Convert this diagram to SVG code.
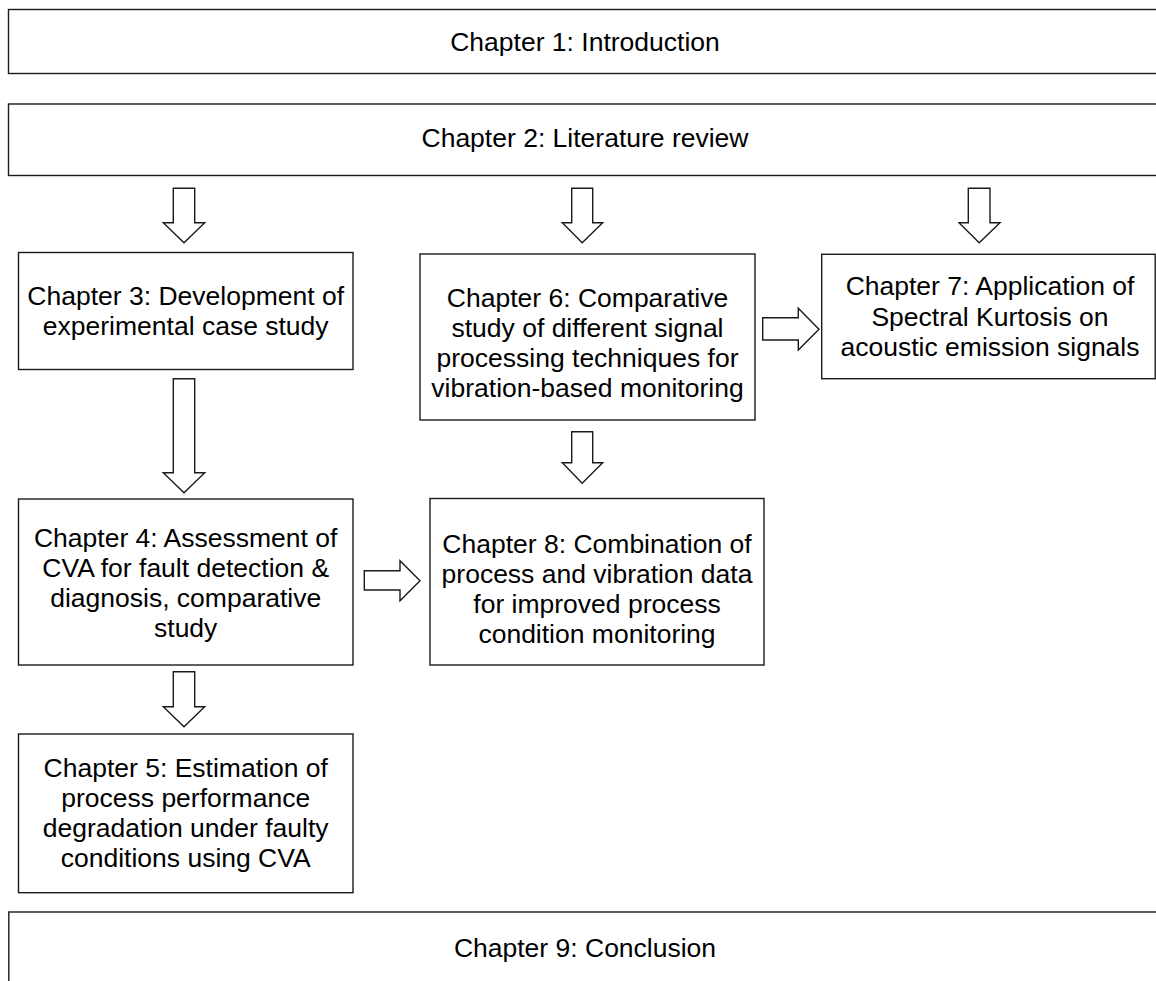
<svg xmlns="http://www.w3.org/2000/svg" width="1156" height="981" viewBox="0 0 1156 981">
<style>
.box{fill:#fff;stroke:#1a1a1a;stroke-width:1.4}
.arr{fill:#fff;stroke:#1a1a1a;stroke-width:1.4;stroke-linejoin:miter}
text{font-family:"Liberation Sans",Arial,sans-serif;font-size:26.5px;fill:#000;text-anchor:middle}
</style>
<rect width="1156" height="981" fill="#fff"/>
<g id="ch1"><rect class="box" x="8.5" y="9.5" width="1160" height="64"/><text x="585" y="51">Chapter 1: Introduction</text></g>
<g id="ch2"><rect class="box" x="8.5" y="104" width="1160" height="71.5"/><text x="585" y="147">Chapter 2: Literature review</text></g>
<g id="ch3"><rect class="box" x="18.5" y="252.5" width="334.5" height="117"/><text x="185.7" y="305">Chapter 3: Development of</text><text x="185.7" y="335">experimental case study</text></g>
<g id="ch4"><rect class="box" x="18.5" y="499" width="334.5" height="166"/><text x="185.7" y="546.7">Chapter 4: Assessment of</text><text x="185.7" y="576.7">CVA for fault detection &amp;</text><text x="185.7" y="606.7">diagnosis, comparative</text><text x="185.7" y="636.7">study</text></g>
<g id="ch5"><rect class="box" x="18.5" y="734" width="334.5" height="158.7"/><text x="185.7" y="776.7">Chapter 5: Estimation of</text><text x="185.7" y="806.7">process performance</text><text x="185.7" y="836.7">degradation under faulty</text><text x="185.7" y="866.7">conditions using CVA</text></g>
<g id="ch6"><rect class="box" x="420" y="254" width="335" height="166"/><text x="587.5" y="306.7">Chapter 6: Comparative</text><text x="587.5" y="336.7">study of different signal</text><text x="587.5" y="366.7">processing techniques for</text><text x="587.5" y="396.7">vibration-based monitoring</text></g>
<g id="ch7"><rect class="box" x="821.7" y="254.3" width="333.5" height="124.4"/><text x="990" y="295">Chapter 7: Application of</text><text x="990" y="325.5">Spectral Kurtosis on</text><text x="990" y="356">acoustic emission signals</text></g>
<g id="ch8"><rect class="box" x="430" y="498.5" width="334" height="166.5"/><text x="597" y="553">Chapter 8: Combination of</text><text x="597" y="583">process and vibration data</text><text x="597" y="613">for improved process</text><text x="597" y="643">condition monitoring</text></g>
<g id="ch9"><rect class="box" x="8.8" y="912" width="1160" height="80"/><text x="585" y="956.7">Chapter 9: Conclusion</text></g>
<g id="connectors">
<polygon class="arr" points="173.3,188.3 194.7,188.3 194.7,222.7 204.7,222.7 184,242.7 163.3,222.7 173.3,222.7"/>
<polygon class="arr" points="571.7,188.3 592.7,188.3 592.7,222.7 602.7,222.7 582.2,242.7 562.3,222.7 571.7,222.7"/>
<polygon class="arr" points="968.3,188.3 990,188.3 990,222.7 1000,222.7 979.2,242.7 959,222.7 968.3,222.7"/>
<polygon class="arr" points="173.3,378.7 194.7,378.7 194.7,472.7 204.7,472.7 184,492.7 163.3,472.7 173.3,472.7"/>
<polygon class="arr" points="571.7,431.7 592.7,431.7 592.7,462.7 602.7,462.7 582.2,483.3 562.3,462.7 571.7,462.7"/>
<polygon class="arr" points="173.3,671.7 194.7,671.7 194.7,706.7 204.7,706.7 184,726.7 163.3,706.7 173.3,706.7"/>
<polygon class="arr" points="364.3,570.7 400,570.7 400,560.7 420,580.7 400,600.7 400,590 364.3,590"/>
<polygon class="arr" points="762.7,317.7 798.3,317.7 798.3,308.3 819,329.2 798.3,350 798.3,340 762.7,340"/>
</g>
</svg>
